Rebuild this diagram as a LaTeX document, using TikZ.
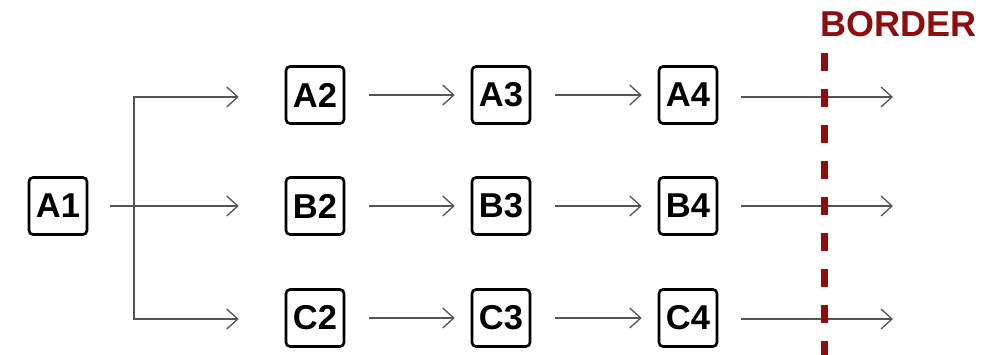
\documentclass[tikz,border=0pt]{standalone}
\usepackage{fontspec}
\setmainfont{Liberation Sans}
\usetikzlibrary{arrows.meta,calc}
\definecolor{bordred}{RGB}{140,14,14}
\definecolor{arrgray}{RGB}{85,85,85}
\begin{document}
\begin{tikzpicture}[x=1pt,y=-1pt,
  stepbox/.style={draw=black,line width=2.6pt,rounded corners=4pt,minimum width=58pt,minimum height=57pt,inner sep=0pt,font=\fontsize{34.5}{34.5}\selectfont\bfseries},
  arr/.style={draw=arrgray,line width=1.3pt,-{Straight Barb[length=11pt,width=20pt,line width=1.3pt]}},
  bordline/.style={draw=bordred,line width=7pt,dash pattern=on 18pt off 18pt}]
\useasboundingbox (0,0) rectangle (983,355);
\node[stepbox] (A1) at (58,206) {A1};
\node[stepbox] (A2) at (315,95) {A2};
\node[stepbox] (B2) at (315,206) {B2};
\node[stepbox] (C2) at (315,318) {C2};
\node[stepbox] (A3) at (501,95) {A3};
\node[stepbox] (B3) at (501,206) {B3};
\node[stepbox] (C3) at (501,318) {C3};
\node[stepbox] (A4) at (688,95) {A4};
\node[stepbox] (B4) at (688,206) {B4};
\node[stepbox] (C4) at (688,318) {C4};
\coordinate (fork) at (134,206);
\coordinate (endA) at (893,97);
\coordinate (endB) at (893,206);
\coordinate (endC) at (893,319);
% from A1
\draw[arr,shorten <=22pt,shorten >=46pt] (A1.east) -- (B2.west);
\draw[arr,shorten >=46pt] (fork) |- ($(A2.west)+(0,2)$);
\draw[arr,shorten >=46pt] (fork) |- ($(C2.west)+(0,1)$);
% middle columns
\foreach \r in {A,B,C}{
  \draw[arr,shorten <=24pt,shorten >=16pt] (\r2.east) -- (\r3.west);
  \draw[arr,shorten <=24pt,shorten >=16pt] (\r3.east) -- (\r4.west);
}
\draw[arr,shorten <=23pt] (A4.east |- endA) -- (endA);
\draw[arr,shorten <=23pt] (B4.east) -- (endB);
\draw[arr,shorten <=23pt] (C4.east |- endC) -- (endC);
% border
\coordinate (btop) at (824,53);
\coordinate (bbot) at (824,357);
\draw[bordline] (btop) -- (bbot);
\node[anchor=base,text=bordred,font=\fontsize{36}{36}\selectfont\bfseries,inner sep=0pt] (border) at (898.5,37) {BORDER};
\end{tikzpicture}
\end{document}
